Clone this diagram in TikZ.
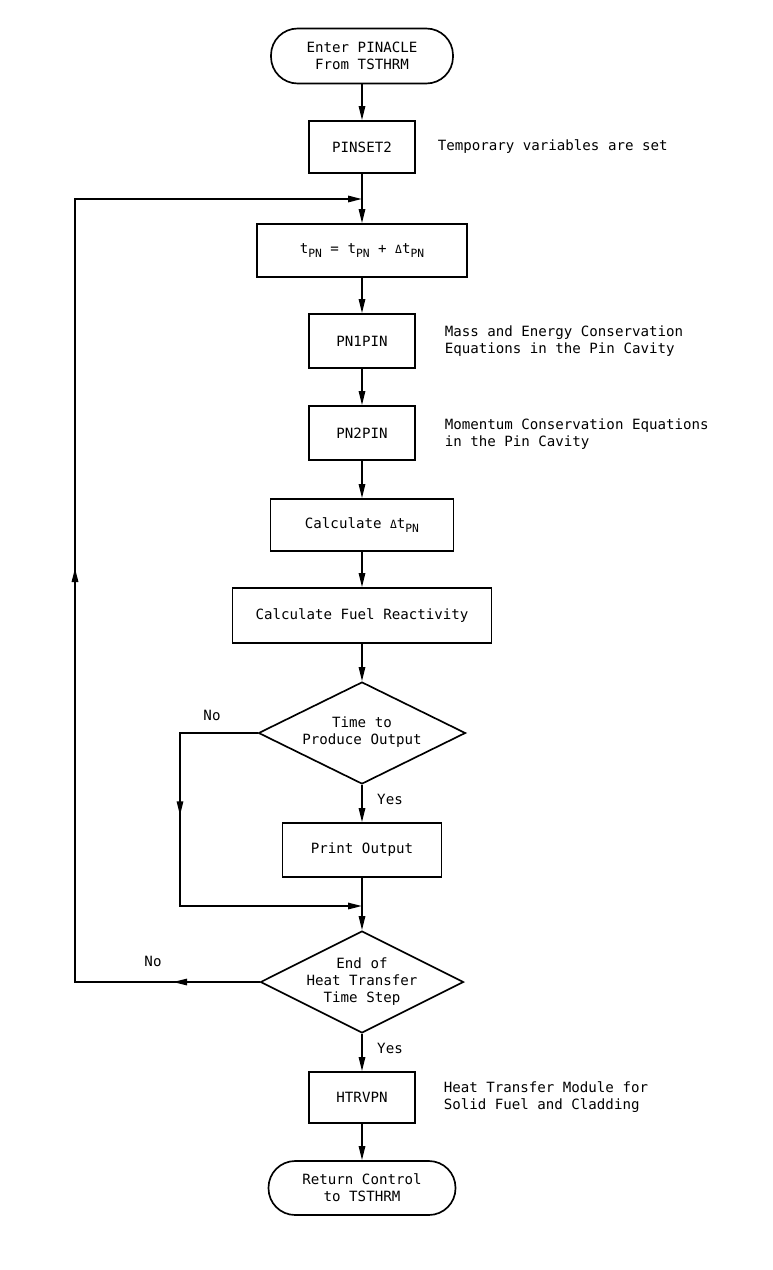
\documentclass[tikz,border=0pt]{standalone}
\usepackage{fontspec}
\newfontfamily\mono{DejaVu Sans Mono}
\usetikzlibrary{arrows.meta,shapes.geometric,decorations.markings}
\newcommand{\subpn}{\raisebox{-3pt}{\fontsize{8.5}{8.5}\selectfont PN}}
\newcommand{\dlt}{{\fontsize{8.5}{8.5}\selectfont Δ}}
\begin{document}
\begin{tikzpicture}[x=0.75pt,y=-0.75pt,
  >={Triangle[length=10.5pt,width=4.8pt]},
  line width=1.25pt,
  every node/.style={font=\mono\fontsize{10.6}{12.75}\selectfont},
  proc/.style={draw, rectangle, inner sep=0pt, align=center, line width=1.25pt},
  term/.style={draw, rectangle, rounded corners=20pt, inner sep=0pt, align=center, line width=1.25pt},
  decide/.style={draw, diamond, inner sep=0pt, aspect=2, line width=1.25pt},
  note/.style={anchor=west, align=left, inner sep=0pt},
  tag/.style={inner sep=0pt},
  arr/.style={->}]
\useasboundingbox (0,0) rectangle (773,1270);

% nodes
\node[term, minimum width=136.5pt, minimum height=41.25pt] (start) at (362,56) {Enter PINACLE\\From TSTHRM};
\node[proc, minimum width=79.5pt, minimum height=39pt] (pinset) at (362,147) {PINSET2};
\node[proc, minimum width=157.5pt, minimum height=39.75pt] (tpn) at (362,250.5) {t\subpn{} = t\subpn{} + \dlt t\subpn};
\node[proc, minimum width=79.5pt, minimum height=40.5pt] (pn1) at (362,341) {PN1PIN};
\node[proc, minimum width=79.5pt, minimum height=40.5pt] (pn2) at (362,433) {PN2PIN};
\node[proc, minimum width=137.25pt, minimum height=39pt] (calcdt) at (362,525) {Calculate \dlt t\subpn};
\node[proc, minimum width=194.25pt, minimum height=41.25pt] (fuel) at (362,615.5) {Calculate Fuel Reactivity};
\node[decide, minimum width=155.25pt, minimum height=76.5pt,
      label={center:{\begin{tabular}{@{}c@{}}Time to\\Produce Output\end{tabular}}}] (d1) at (362,733) {};
\node[proc, minimum width=119.25pt, minimum height=40.5pt] (print) at (362,850) {Print Output};
\node[decide, minimum width=152.25pt, minimum height=76.5pt,
      label={center:{\begin{tabular}{@{}c@{}}End of\\Heat Transfer\\Time Step\end{tabular}}}] (d2) at (362,982) {};
\node[proc, minimum width=79.5pt, minimum height=38.25pt] (htr) at (362,1097.5) {HTRVPN};
\node[term, minimum width=140.25pt, minimum height=40.5pt] (end) at (362,1188) {Return Control\\to TSTHRM};

% annotations
\node[note] (n0) at (437,147) {Temporary variables are set};
\node[note] (n1) at (444,341) {Mass and Energy Conservation\\Equations in the Pin Cavity};
\node[note] (n2) at (444,434) {Momentum Conservation Equations\\in the Pin Cavity};
\node[note] (n3) at (443,1097) {Heat Transfer Module for\\Solid Fuel and Cladding};
\node[tag] (no1) at (212,715) {No};
\node[tag] (yes1) at (390,799) {Yes};
\node[tag] (no2) at (153,961) {No};
\node[tag] (yes2) at (390,1048) {Yes};

% coordinates
\coordinate (join) at (362,199);
\coordinate (merge) at (362,906);
\coordinate (noA) at (180,733);
\coordinate (noB) at (180,906);
\coordinate (loopA) at (75,982);
\coordinate (loopB) at (75,199);

% main flow
\draw[arr] (start) -- (pinset);
\draw[arr] (pinset) -- (tpn);
\draw[arr] (tpn) -- (pn1);
\draw[arr] (pn1) -- (pn2);
\draw[arr] (pn2) -- (calcdt);
\draw[arr] (calcdt) -- (fuel);
\draw[arr] (fuel) -- (d1);
\draw[arr] (d1) -- (print);
\draw[arr] (print) -- (d2);
\draw[arr] (d2) -- (htr);
\draw[arr] (htr) -- (end);

% no branch of first decision
\draw[arr, postaction={decorate},
  decoration={markings, mark=at position 120pt with {\arrow{>}}}]
  (d1.west) -- (noA) -- (noB) -- (merge);

% loop back
\draw[arr, postaction={decorate},
  decoration={markings,
    mark=at position 65pt with {\arrow{>}},
    mark=at position 449pt with {\arrow{>}}}]
  (d2.west) -- (loopA) -- (loopB) -- (join);
\end{tikzpicture}
\end{document}
